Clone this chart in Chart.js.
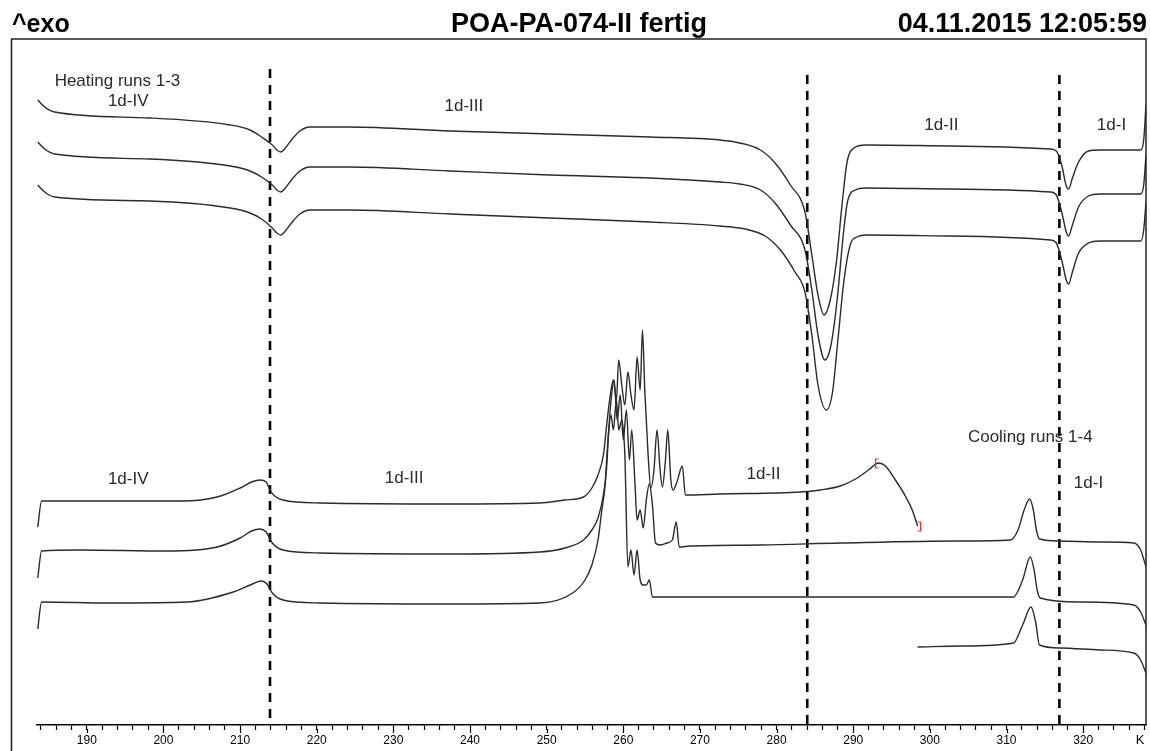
<!DOCTYPE html>
<html>
<head>
<meta charset="utf-8">
<script src="https://cdn.jsdelivr.net/npm/chart.js@4.4.1/dist/chart.umd.min.js"></script>
<style>
    body { margin: 0; background: #fff; }
    #wrap { position: relative; width: 1150px; height: 751px; }
    .hdr { position: absolute; top: 8px; font-family: "Liberation Sans", Arial, sans-serif; font-weight: bold; font-size: 27px; color: #000; white-space: nowrap; line-height: normal; }
</style>
</head>
<body>
<div id="wrap">
    <canvas id="chart" width="1150" height="751"></canvas>
    <div class="hdr" style="left:12px; font-size:25px; top:9px;">^exo</div>
    <div class="hdr" style="left:579px; transform:translateX(-50%);">POA-PA-074-II fertig</div>
    <div class="hdr" style="right:3px;">04.11.2015 12:05:59</div>
</div>
<script>
// temperature in K, heat flow in arbitrary units (curves offset as in the original plot)
const heat1T = [183.6, 184.5, 185.8, 198.2, 208.7, 211.3, 212.8, 214.2, 214.8, 215.3, 215.9, 216.8, 217.8, 219.1, 224.3, 237.4, 250.4, 263.5, 272.6, 275.2, 277.9, 279.8, 281.8, 283.7, 284.6, 285.4, 286.2, 287.0, 287.8, 288.6, 289.2, 290.1, 291.6, 302.7, 315.7, 316.5, 317.2, 317.8, 318.1, 318.6, 319.4, 320.7, 322.2, 327.5, 327.9, 328.2];
const heat1V = [62.5, 61.8, 61.3, 60.7, 60.0, 59.5, 58.8, 58.0, 57.5, 57.3, 57.7, 58.6, 59.4, 59.8, 59.8, 59.4, 59.1, 58.8, 58.5, 58.2, 57.5, 56.2, 54.0, 51.3, 47.0, 43.0, 41.0, 42.5, 46.3, 52.5, 56.3, 57.7, 58.0, 57.9, 57.6, 57.4, 56.0, 53.9, 53.6, 54.7, 56.3, 57.4, 57.5, 57.5, 58.5, 62.0];

const heat2T = [183.6, 184.5, 185.8, 198.2, 208.7, 211.3, 212.8, 214.2, 214.8, 215.3, 215.9, 216.8, 217.8, 219.1, 224.3, 237.4, 250.4, 263.5, 272.6, 275.2, 277.9, 279.8, 281.8, 283.7, 284.6, 285.4, 286.3, 287.1, 287.9, 288.7, 289.3, 290.3, 291.6, 302.7, 315.7, 316.5, 317.2, 317.8, 318.1, 318.6, 319.4, 320.7, 322.2, 327.5, 327.9, 328.2];
const heat2V = [58.3, 57.6, 57.1, 56.6, 55.9, 55.4, 54.8, 54.0, 53.5, 53.3, 53.7, 54.6, 55.4, 55.8, 55.8, 55.4, 55.0, 54.7, 54.3, 54.1, 53.5, 52.2, 50.0, 47.5, 43.5, 39.0, 36.5, 38.0, 42.5, 49.0, 52.5, 53.5, 53.7, 53.6, 53.3, 53.0, 51.3, 49.3, 48.9, 50.0, 51.8, 52.9, 53.1, 53.1, 54.0, 57.0];

const heat3T = [183.6, 184.5, 185.8, 198.2, 208.7, 211.3, 212.8, 214.2, 214.8, 215.3, 215.9, 216.8, 217.8, 219.1, 224.3, 237.4, 250.4, 263.5, 272.6, 275.9, 278.5, 280.5, 282.4, 283.7, 284.6, 285.4, 286.5, 287.3, 288.0, 288.8, 289.6, 290.5, 291.8, 302.7, 315.7, 316.5, 317.2, 317.8, 318.1, 318.6, 319.4, 320.7, 322.2, 327.5, 327.9, 328.2];
const heat3V = [54.0, 53.3, 52.8, 52.4, 51.7, 51.2, 50.6, 49.7, 49.2, 49.0, 49.4, 50.3, 51.1, 51.5, 51.5, 51.1, 50.7, 50.3, 49.9, 49.6, 48.9, 47.5, 45.3, 43.3, 39.0, 34.0, 31.5, 33.3, 38.5, 44.5, 48.0, 48.8, 49.0, 48.9, 48.5, 48.2, 46.5, 44.5, 44.1, 45.3, 47.2, 48.2, 48.4, 48.4, 49.5, 52.3];

const cool1T = [183.6, 184.1, 190.4, 202.5, 207.0, 210.0, 211.5, 212.6, 213.4, 213.9, 214.5, 215.6, 220.4, 237.4, 249.1, 252.4, 254.8, 255.9, 256.7, 257.4, 257.9, 258.3, 258.7, 259.1, 259.4, 259.8, 260.2, 260.6, 261.0, 261.4, 261.8, 262.2, 262.5, 262.8, 263.2, 263.6, 264.0, 264.4, 264.8, 265.1, 265.5, 265.8, 266.2, 266.5, 267.0, 267.7, 268.1, 272.6, 283.1, 285.7, 288.3, 290.3, 292.0, 293.3, 294.2, 295.5, 296.8, 297.7, 298.4];
const cool1V = [19.8, 22.4, 22.4, 22.4, 22.8, 23.7, 24.3, 24.5, 24.3, 23.5, 22.9, 22.5, 22.2, 22.1, 22.2, 22.5, 22.8, 23.7, 25.0, 27.0, 30.5, 33.0, 34.5, 32.5, 36.5, 34.0, 32.0, 35.3, 33.0, 31.5, 36.8, 33.5, 39.5, 33.5, 27.5, 23.7, 25.5, 29.5, 25.5, 23.8, 26.5, 29.5, 24.5, 23.5, 24.3, 25.9, 23.0, 23.1, 23.3, 23.5, 23.9, 24.6, 25.5, 26.2, 25.9, 24.5, 22.9, 21.5, 19.9];

const cool2T = [183.6, 184.1, 189.1, 200.4, 207.0, 210.0, 211.5, 212.6, 213.4, 214.2, 215.6, 220.4, 237.4, 249.1, 252.4, 254.8, 255.9, 256.7, 257.4, 257.8, 258.1, 258.4, 258.8, 259.2, 259.6, 260.0, 260.4, 260.8, 261.1, 261.5, 261.8, 262.2, 262.6, 263.0, 263.4, 263.8, 264.2, 264.8, 265.7, 266.4, 266.9, 267.3, 268.7, 277.9, 288.3, 304.0, 310.5, 311.5, 312.3, 313.0, 313.5, 313.9, 314.3, 317.0, 322.2, 326.6, 327.5, 328.2];
const cool2V = [14.7, 17.4, 17.5, 17.4, 17.8, 18.7, 19.4, 19.6, 19.3, 18.2, 17.5, 17.2, 17.1, 17.3, 17.7, 18.5, 19.5, 20.7, 23.0, 25.5, 29.5, 32.5, 34.5, 30.5, 33.0, 28.5, 31.5, 26.5, 29.5, 24.5, 20.5, 21.5, 19.7, 22.5, 24.1, 22.0, 18.2, 18.0, 18.2, 18.5, 20.3, 17.8, 17.9, 18.0, 18.2, 18.4, 18.5, 19.5, 21.5, 22.6, 21.5, 19.5, 18.6, 18.4, 18.3, 18.2, 17.5, 15.8];

const cool3T = [183.6, 184.1, 193.0, 203.1, 209.1, 211.3, 212.8, 213.5, 214.2, 215.6, 220.4, 237.4, 249.1, 253.4, 255.0, 255.9, 256.7, 257.2, 257.6, 258.0, 258.4, 258.7, 259.1, 259.4, 259.8, 260.2, 260.6, 261.0, 261.4, 261.8, 262.2, 262.6, 263.0, 263.4, 263.8, 264.8, 277.9, 288.3, 304.0, 310.9, 312.1, 313.1, 313.6, 314.0, 314.4, 319.6, 326.6, 327.5, 328.2];
const cool3V = [9.6, 12.3, 12.2, 12.3, 13.3, 14.0, 14.4, 14.1, 13.2, 12.5, 12.2, 12.1, 12.2, 13.2, 14.5, 16.0, 18.5, 21.5, 23.8, 28.5, 31.0, 29.5, 32.5, 29.5, 30.5, 27.0, 15.8, 17.5, 15.0, 17.5, 14.5, 14.0, 14.0, 14.5, 12.8, 12.8, 12.8, 12.8, 12.8, 12.8, 14.5, 16.8, 15.5, 13.5, 12.7, 12.3, 12.0, 11.3, 10.0];

const cool4T = [298.4, 304.0, 310.9, 312.1, 313.2, 313.8, 314.3, 317.0, 322.2, 326.6, 327.5, 328.2];
const cool4V = [7.8, 7.9, 8.2, 10.0, 11.8, 10.3, 8.0, 7.7, 7.5, 7.2, 6.5, 5.2];

// phase boundaries (dashed) and the red evaluation limits on cooling run 1
const dividerT = [213.9, 284.0, 316.9];
const dividerTop = [65.6, 65.0, 65.0];
const bracketT = [293.3, 298.4];
const bracketV = [26.2, 19.9];

const notes = [
    { text: "Heating runs 1-3", t: 194.0, v: 64.4 },
    { text: "1d-IV", t: 195.4, v: 62.4 },
    { text: "1d-III", t: 239.2, v: 61.9 },
    { text: "1d-II", t: 301.5, v: 60.0 },
    { text: "1d-I", t: 323.7, v: 60.0 },
    { text: "Cooling runs 1-4", t: 313.1, v: 28.8 },
    { text: "1d-IV", t: 195.4, v: 24.6 },
    { text: "1d-III", t: 231.4, v: 24.7 },
    { text: "1d-II", t: 278.3, v: 25.1 },
    { text: "1d-I", t: 320.7, v: 24.2 }
];

const pts = (ts, vs) => ts.map((t, i) => ({ x: t, y: vs[i] }));
const curve = (label, ts, vs) => ({
    label: label,
    data: pts(ts, vs),
    borderColor: '#2b2b2b',
    borderWidth: 1.4,
    pointRadius: 0,
    fill: false,
    cubicInterpolationMode: 'monotone'
});

const datasets = [
    curve('Heating 1', heat1T, heat1V),
    curve('Heating 2', heat2T, heat2V),
    curve('Heating 3', heat3T, heat3V),
    curve('Cooling 1', cool1T, cool1V),
    curve('Cooling 2', cool2T, cool2V),
    curve('Cooling 3', cool3T, cool3V),
    curve('Cooling 4', cool4T, cool4V)
];
dividerT.forEach((t, i) => {
    datasets.push({
        label: 'divider ' + t,
        data: [{ x: t, y: dividerTop[i] }, { x: t, y: 0 }],
        borderColor: '#000',
        borderWidth: 2.6,
        borderDash: [9, 7],
        pointRadius: 0,
        tension: 0
    });
});

const decor = {
    id: 'decor',
    afterDraw(chart) {
        const ctx = chart.ctx;
        const xs = chart.scales.x, ys = chart.scales.y;
        const a = chart.chartArea;
        ctx.save();
        // frame
        ctx.strokeStyle = '#222';
        ctx.lineWidth = 1.5;
        ctx.beginPath();
        ctx.moveTo(11.5, 751);
        ctx.lineTo(11.5, a.top);
        ctx.lineTo(a.right, a.top);
        ctx.lineTo(a.right, a.bottom);
        ctx.stroke();

        // longer marks at the labelled ticks
        ctx.strokeStyle = '#000';
        ctx.lineWidth = 1.2;
        xs.ticks.forEach(tk => {
            if (Math.round(tk.value) % 10 !== 0) return;
            const px = Math.round(xs.getPixelForValue(tk.value)) + 0.5;
            ctx.beginPath();
            ctx.moveTo(px, a.bottom + 4);
            ctx.lineTo(px, a.bottom + 8);
            ctx.stroke();
        });

        // red limit brackets
        ctx.strokeStyle = '#e8302a';
        ctx.lineWidth = 1.2;
        bracketT.forEach((t, i) => {
            const px = xs.getPixelForValue(t), py = ys.getPixelForValue(bracketV[i]);
            const dir = i === 0 ? 1 : -1;
            const bx = px - dir * 3;
            ctx.beginPath();
            ctx.moveTo(bx + dir * 3, py - 4);
            ctx.lineTo(bx, py - 4);
            ctx.lineTo(bx, py + 5);
            ctx.lineTo(bx + dir * 3, py + 5);
            ctx.stroke();
        });

        // annotations
        ctx.fillStyle = '#2a2a2a';
        ctx.font = '17px "Liberation Sans", Arial, sans-serif';
        ctx.textAlign = 'center';
        ctx.textBaseline = 'middle';
        notes.forEach(n => {
            ctx.fillText(n.text, xs.getPixelForValue(n.t), ys.getPixelForValue(n.v));
        });

        // unit at the end of the axis
        ctx.fillStyle = '#000';
        ctx.font = '13px "Liberation Sans", Arial, sans-serif';
        ctx.fillText('K', a.right - 6, 740);
        ctx.restore();
    }
};

const ctx = document.getElementById('chart').getContext('2d');
new Chart(ctx, {
    type: 'line',
    data: { datasets: datasets },
    options: {
        responsive: false,
        animation: false,
        parsing: false,
        layout: { padding: { left: 37, right: 4, top: 39, bottom: 0 } },
        plugins: {
            legend: { display: false },
            tooltip: { enabled: false }
        },
        scales: {
            x: {
                type: 'linear',
                min: 183.5,
                max: 328.2,
                border: { display: true, color: '#000', width: 1.5 },
                grid: { drawOnChartArea: false, drawTicks: true, tickLength: 5, tickColor: '#000', tickWidth: 1.2 },
                ticks: {
                    stepSize: 2,
                    includeBounds: false,
                    autoSkip: false,
                    maxRotation: 0,
                    padding: 3,
                    color: '#000',
                    font: { family: 'Liberation Sans', size: 12 },
                    callback: v => Math.round(v) % 10 === 0 ? Math.round(v) : ''
                },
                afterFit: s => { s.height = 26; }
            },
            y: {
                type: 'linear',
                display: false,
                min: 0,
                max: 68.6
            }
        }
    },
    plugins: [decor]
});
</script>
</body>
</html>
